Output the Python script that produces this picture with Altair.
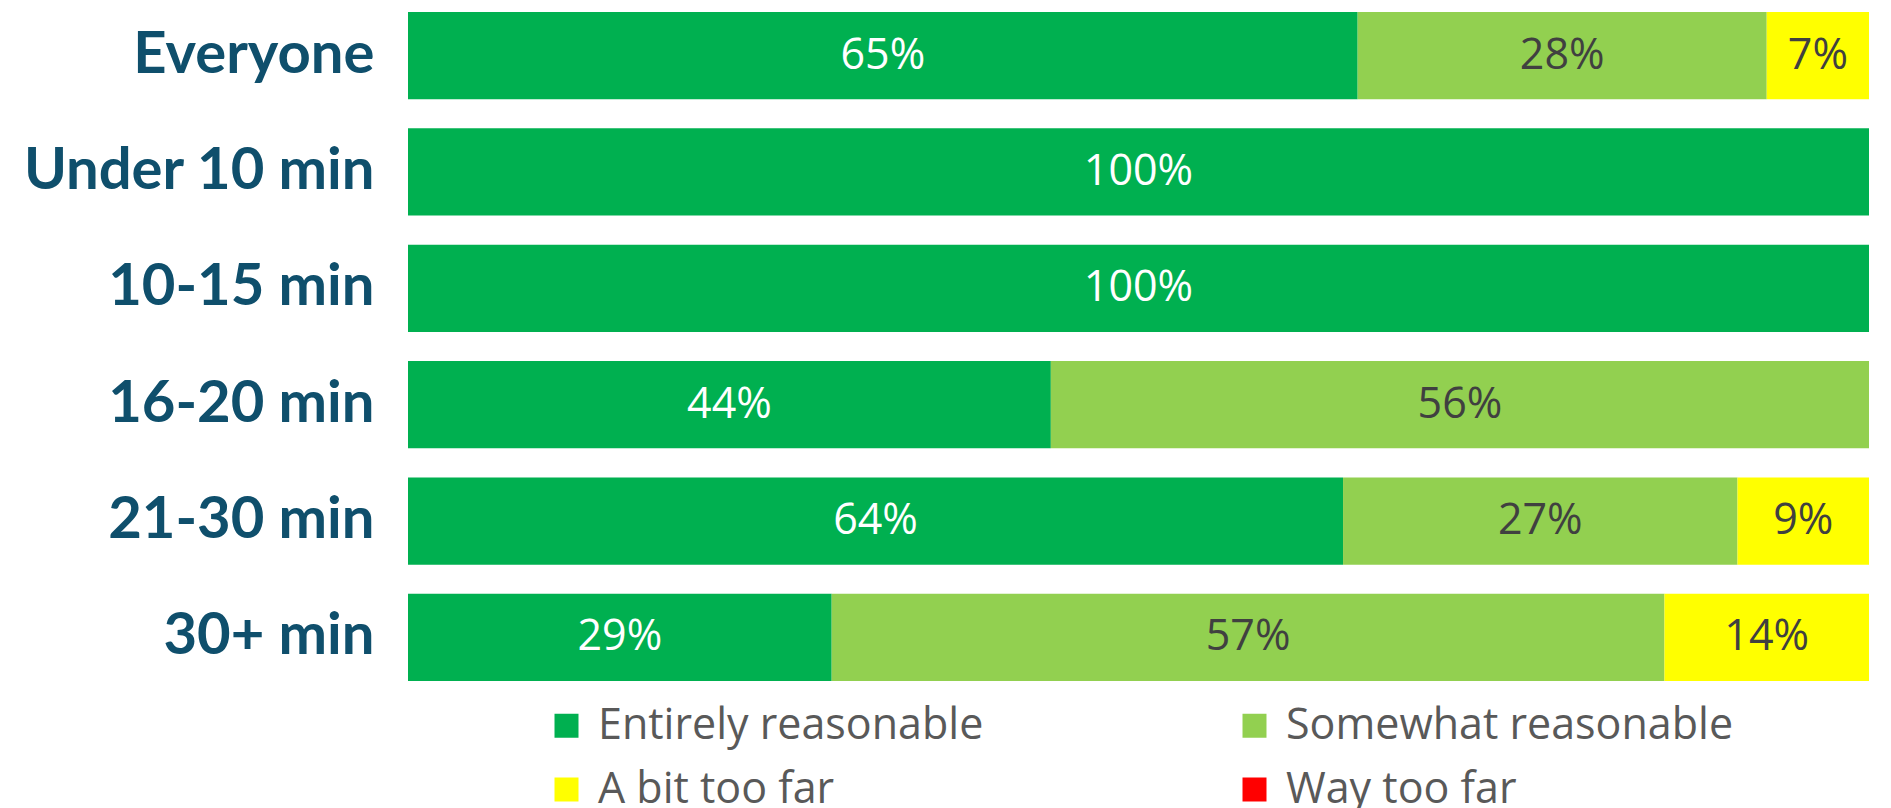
import altair as alt
import pandas as pd

groups = ["Everyone", "Under 10 min", "10-15 min", "16-20 min", "21-30 min", "30+ min"]
categories = ["Entirely reasonable", "Somewhat reasonable", "A bit too far", "Way too far"]
entirely = [65, 100, 100, 44, 64, 29]
somewhat = [28, 0, 0, 56, 27, 57]
bit_far = [7, 0, 0, 0, 9, 14]
way_far = [0, 0, 0, 0, 0, 0]
colors = ["#00B050", "#92D050", "#FFFF00", "#FF0000"]
label_colors = ["#FFFFFF", "#404040", "#404040", "#404040"]

rows = []
series_list = [entirely, somewhat, bit_far, way_far]
for gi, g in enumerate(groups):
    start = 0
    for ci, cat in enumerate(categories):
        v = series_list[ci][gi]
        rows.append(dict(group=g, cat=cat, order=ci, start=start, end=start + v,
                         mid=start + v / 2, value=v, label=f"{v}%", tcolor=label_colors[ci]))
        start += v
df = pd.DataFrame(rows)

y_enc = alt.Y("group:N", sort=groups,
              scale=alt.Scale(paddingInner=0.25, paddingOuter=0),
              axis=alt.Axis(title=None, domain=False, ticks=False, labelFontSize=58,
                            labelFont="Lato", labelFontWeight="bold", labelColor="#0F4F6C",
                            labelPadding=34, labelLimit=600))
x_scale = alt.Scale(domain=[0, 100], nice=False, zero=True)

bars = alt.Chart(df).transform_filter("datum.value > 0").mark_bar().encode(
    y=y_enc,
    x=alt.X("start:Q", scale=x_scale, axis=None),
    x2="end:Q",
    color=alt.Color("cat:N", scale=alt.Scale(domain=categories, range=colors),
                    legend=alt.Legend(title=None, orient="none", legendX=137, legendY=692,
                                      direction="horizontal",
                                      columns=2, columnPadding=249, rowPadding=20,
                                      symbolType="square", symbolSize=576,
                                      symbolStrokeWidth=0, symbolOpacity=1,
                                      labelFont="Open Sans", labelFontSize=43,
                                      labelColor="#595959", labelOffset=10, padding=0,
                                      labelLimit=800)),
)

labels = alt.Chart(df).transform_filter("datum.value > 0").mark_text(
    font="Open Sans", fontSize=43, baseline="middle", align="center"
).encode(
    y=alt.Y("group:N", sort=groups),
    x=alt.X("mid:Q", scale=x_scale, axis=None),
    text="label:N",
    color=alt.Color("tcolor:N", scale=None),
)

chart = alt.layer(bars, labels).properties(
    width=1461, height=669,
    autosize=alt.AutoSizeParams(type="none"),
    padding={"left": 400, "top": 4, "right": 10, "bottom": 140},
).configure_view(stroke=None)

chart.save("out.html", embed_options={"renderer": "svg", "actions": False})
